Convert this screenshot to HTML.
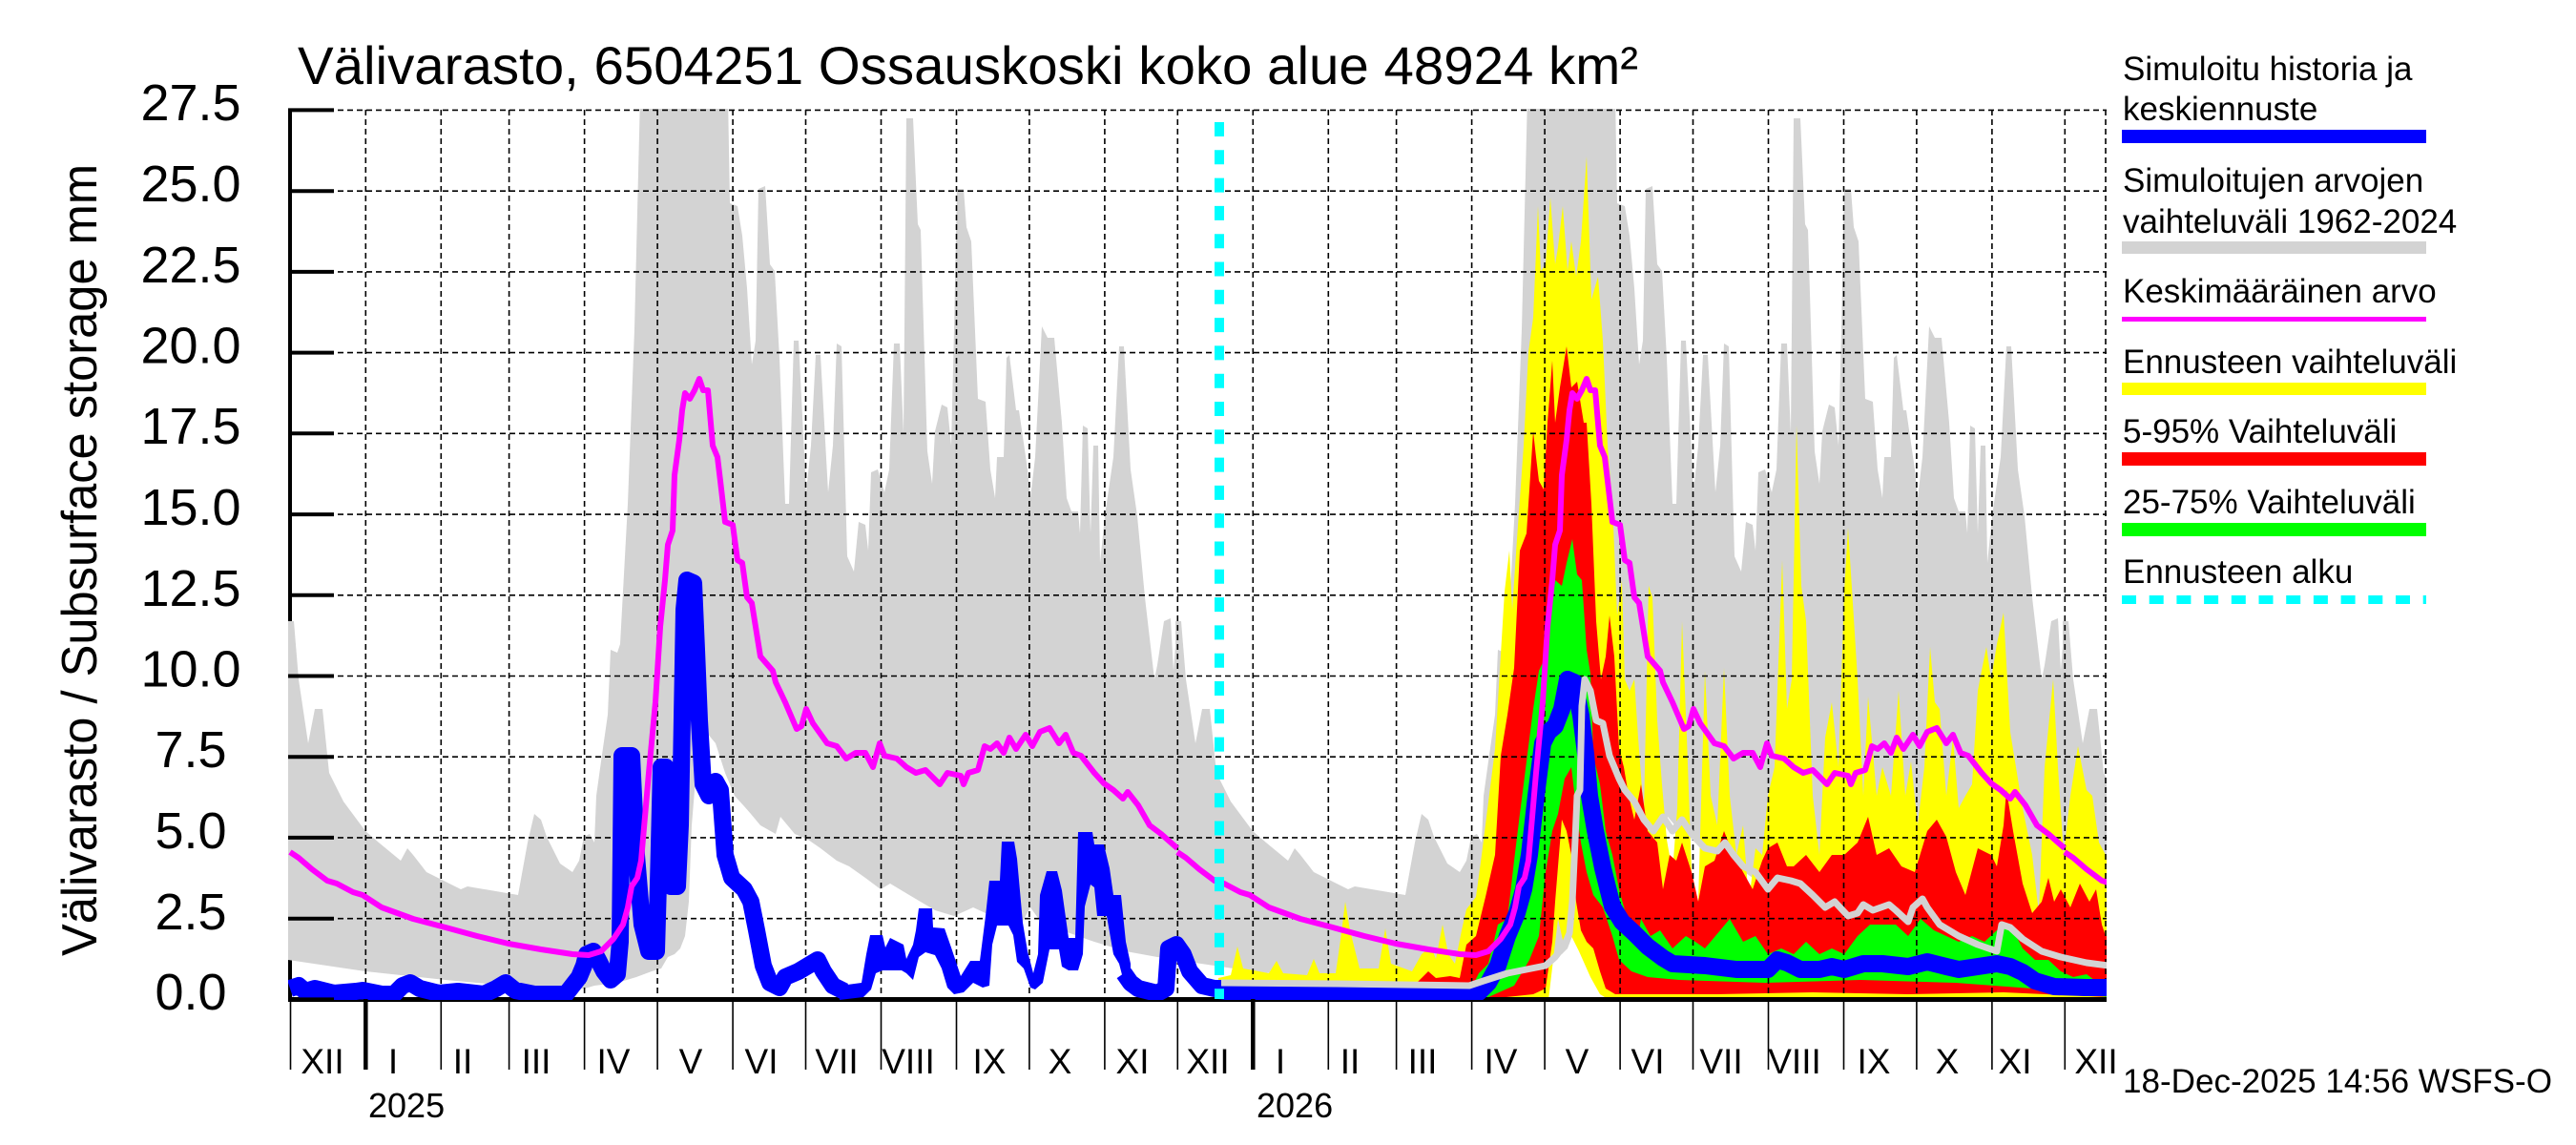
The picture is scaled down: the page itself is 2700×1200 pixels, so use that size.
<!DOCTYPE html>
<html><head><meta charset="utf-8">
<style>
html,body{margin:0;padding:0;background:#fff;}
svg{display:block;}
text{font-family:"Liberation Sans",Arial,Helvetica,sans-serif;fill:#000;}
</style></head>
<body>
<svg xmlns="http://www.w3.org/2000/svg" xmlns:xlink="http://www.w3.org/1999/xlink" width="2700" height="1200" viewBox="0 0 2700 1200">
<rect x="0" y="0" width="2700" height="1200" fill="#fff"/>
<defs>
<clipPath id="pc"><rect x="302" y="114" width="1906" height="934"/></clipPath>
<polygon id="band" fill="#d3d3d3" points="302,651 308,651 313,712 323,779 330,743 338,743 345,810 360,840 383,871 397,883 420,902 427,889 433,896 447,914 483,932 490,929 543,938 553,883 560,853 567,859 573,877 587,905 600,914 607,902 612,877 618,874 623,883 625,834 630,798 637,749 640,681 647,684 650,675 653,620 658,528 665,345 668,222 671,100 763,100 765,213 773,216 778,247 783,302 788,382 792,357 795,198 802,195 807,277 812,284 817,375 823,528 827,528 832,357 837,357 845,516 850,467 855,372 860,372 868,516 873,467 877,360 882,363 888,583 895,599 900,547 907,550 910,577 913,495 920,492 927,516 932,492 937,360 943,360 947,455 950,124 957,124 962,235 965,241 972,473 977,507 980,452 987,424 993,427 997,467 1000,345 1003,198 1010,198 1013,238 1018,253 1025,418 1033,421 1038,492 1043,522 1045,479 1052,479 1055,375 1058,372 1065,430 1068,430 1077,492 1080,522 1085,479 1092,342 1098,354 1105,354 1113,443 1118,522 1123,536 1130,536 1132,559 1135,446 1140,449 1143,559 1146,467 1151,467 1153,590 1158,541 1167,479 1173,363 1178,363 1185,492 1192,541 1200,626 1210,712 1213,697 1220,651 1227,648 1230,703 1234,651 1234,1006 1213,1003 1180,997 1147,987 1113,975 1093,969 1080,951 1070,969 1057,957 1033,957 1020,951 1000,960 980,954 953,938 933,926 923,932 907,920 890,908 877,902 860,889 847,880 833,874 818,856 813,874 797,865 787,853 780,845 770,834 760,810 750,779 740,767 730,804 725,865 722,945 718,981 713,994 707,1000 700,1003 693,1015 683,1018 667,1024 647,1030 623,1033 613,1036 600,1036 533,1033 467,1027 383,1018 302,1006"/>
<polyline id="mean" fill="none" stroke="#ff00ff" stroke-width="6" stroke-linejoin="round" points="304,893 313,899 327,911 343,923 353,926 370,935 380,938 400,951 433,963 467,972 500,981 533,989 567,995 600,1000 617,1001 630,997 643,984 653,969 658,951 662,929 668,920 672,902 680,810 687,736 692,657 697,608 700,571 705,556 707,498 712,461 715,430 718,412 723,418 728,409 733,397 737,409 742,409 747,467 752,479 755,504 760,547 768,550 773,587 778,590 783,626 788,632 797,688 810,703 813,715 823,736 835,764 840,761 845,743 852,758 867,779 877,782 887,795 897,789 907,789 915,804 922,779 927,792 940,795 950,804 960,810 970,807 985,822 993,810 1007,813 1010,822 1015,810 1025,807 1032,782 1038,785 1045,779 1052,789 1058,773 1065,785 1075,770 1082,782 1090,767 1100,763 1110,779 1117,770 1125,789 1133,792 1147,810 1157,821 1167,828 1177,837 1182,830 1193,844 1205,865 1217,874 1234,889"/>
</defs>

<!-- y axis line (under grey band) -->
<line x1="304" y1="114" x2="304" y2="1049" stroke="#000" stroke-width="4"/>

<g clip-path="url(#pc)">
  <use xlink:href="#band"/>
  <use xlink:href="#band" x="930"/>
  <use xlink:href="#band" x="1860"/>

  <!-- forecast: yellow (min-max) -->
  <polygon fill="#ffff00" points="1277,1025 1290,1022 1297,992 1303,1015 1330,1020 1338,1007 1345,1020 1370,1022 1377,1005 1383,1020 1400,1020 1405,985 1410,945 1415,975 1425,1015 1445,1015 1452,973 1458,1010 1480,1018 1490,1000 1500,992 1505,1005 1512,969 1518,1000 1525,1010 1532,975 1537,953 1547,940 1553,896 1567,785 1577,620 1582,577 1585,639 1590,565 1597,467 1602,369 1607,333 1612,216 1615,284 1620,277 1625,207 1630,277 1633,259 1638,216 1643,284 1647,253 1652,290 1657,253 1663,164 1668,314 1675,290 1680,357 1685,467 1690,528 1695,645 1700,608 1703,712 1708,724 1713,712 1717,773 1723,853 1728,614 1732,626 1737,755 1742,822 1747,880 1753,914 1758,847 1763,651 1768,773 1773,914 1780,945 1787,703 1793,834 1800,865 1807,700 1813,834 1820,896 1827,865 1833,945 1840,889 1847,896 1853,834 1860,804 1868,587 1873,743 1878,712 1883,446 1888,614 1893,651 1900,834 1907,896 1913,773 1920,736 1927,804 1933,620 1937,553 1942,632 1947,712 1953,834 1958,730 1967,834 1973,804 1982,834 1990,724 1997,834 2003,798 2010,865 2017,804 2023,678 2028,736 2033,743 2040,834 2047,773 2053,847 2060,834 2067,822 2073,724 2077,703 2082,678 2087,712 2093,675 2100,642 2107,767 2113,804 2120,847 2130,896 2137,957 2143,804 2152,712 2157,804 2163,896 2170,834 2178,782 2187,828 2193,834 2200,883 2207,896 2210,896 2210,1048 1687,1048 1677,1042 1667,1024 1655,997 1647,981 1640,994 1633,963 1623,1048 1277,1048"/>

  <!-- forecast: red (5-95%) -->
  <polygon fill="#ff0000" points="1277,1036 1400,1036 1480,1035 1490,1025 1497,1018 1505,1025 1520,1023 1530,1025 1537,990 1547,981 1557,940 1567,896 1573,792 1580,749 1587,700 1593,577 1600,559 1607,452 1610,479 1613,504 1618,513 1622,443 1627,378 1630,443 1635,406 1642,363 1647,406 1653,400 1660,443 1663,443 1668,528 1673,651 1678,712 1683,688 1687,645 1692,688 1697,785 1702,804 1707,834 1713,859 1720,822 1727,871 1737,883 1743,932 1750,896 1757,902 1763,883 1773,914 1780,945 1787,908 1797,902 1807,871 1817,896 1827,914 1837,932 1847,902 1853,889 1863,883 1873,908 1880,908 1893,896 1907,914 1920,896 1933,896 1947,883 1958,856 1967,896 1980,889 1993,908 2007,914 2020,871 2030,859 2040,877 2050,914 2060,938 2073,889 2087,896 2093,908 2100,865 2103,828 2110,871 2120,926 2130,957 2140,945 2147,920 2153,945 2160,932 2170,951 2180,926 2190,945 2197,932 2203,969 2207,981 2210,981 2210,1045 2100,1040 2000,1042 1900,1040 1800,1042 1760,1042 1693,1042 1683,1036 1677,1018 1670,994 1663,987 1657,975 1652,945 1647,896 1642,871 1637,859 1630,945 1627,987 1620,1036 1607,1042 1560,1047 1277,1047"/>

  <!-- forecast: green (25-75%) -->
  <polygon fill="#00ff00" points="1277,1040 1540,1040 1550,1020 1560,1010 1570,969 1580,963 1587,902 1593,853 1600,798 1607,743 1613,703 1620,688 1627,632 1630,608 1637,614 1642,590 1648,565 1653,602 1658,608 1663,681 1667,706 1670,792 1677,822 1683,871 1690,896 1697,932 1707,969 1717,981 1720,963 1730,981 1740,975 1753,994 1767,981 1777,987 1787,994 1803,975 1813,963 1827,987 1840,981 1853,1000 1867,994 1880,1000 1893,987 1907,1000 1920,994 1933,1000 1947,981 1960,969 1973,969 1987,969 2000,981 2013,963 2027,975 2040,981 2053,987 2067,981 2080,987 2093,975 2107,969 2120,994 2133,1006 2147,1006 2160,1018 2173,1024 2187,1021 2207,1036 2210,1036 2210,1045 2130,1036 2050,1030 1950,1027 1850,1030 1760,1027 1727,1024 1710,1018 1697,1006 1690,981 1680,951 1670,938 1663,914 1657,883 1652,847 1647,804 1640,816 1633,853 1627,871 1620,914 1613,981 1603,1006 1587,1033 1560,1045 1277,1045"/>

  <!-- grid -->
  <path fill="none" stroke="#000" stroke-width="1.6" stroke-dasharray="6,4" d="M304 962.7H2208M304 877.9H2208M304 793.2H2208M304 708.5H2208M304 623.8H2208M304 539.1H2208M304 454.3H2208M304 369.6H2208M304 284.9H2208M304 200.2H2208M304 115.4H2208"/>
  <path fill="none" stroke="#000" stroke-width="1.6" stroke-dasharray="6,4" d="M383.3 115V1047M462.3 115V1047M533.6 115V1047M612.6 115V1047M689.1 115V1047M768.1 115V1047M844.5 115V1047M923.5 115V1047M1002.5 115V1047M1078.9 115V1047M1157.9 115V1047M1234.3 115V1047M1313.3 115V1047M1392.3 115V1047M1463.6 115V1047M1542.6 115V1047M1619.1 115V1047M1698.1 115V1047M1774.5 115V1047M1853.5 115V1047M1932.5 115V1047M2008.9 115V1047M2087.9 115V1047M2164.3 115V1047M2207 115V1047"/>
</g>

<!-- bottom axis -->
<line x1="302" y1="1047.5" x2="2208" y2="1047.5" stroke="#000" stroke-width="5"/>

<g clip-path="url(#pc)">
  <!-- blue history -->
  <polyline fill="none" stroke="#0000ff" stroke-width="18" stroke-linejoin="round" points="304,1036 313,1033 320,1039 330,1036 350,1041 373,1039 380,1038 400,1042 413,1042 422,1033 430,1030 440,1036 460,1041 480,1039 507,1042 520,1036 530,1030 540,1038 560,1042 593,1042 600,1033 607,1024 612,1012 615,1000 622,997 627,1006 633,1018 640,1027 647,1021 650,987 652,792 662,792 667,896 673,969 680,997 688,997 690,926 693,804 698,804 700,896 703,929 710,929 713,865 717,639 720,608 727,611 730,681 733,755 737,822 743,834 750,819 755,828 760,896 767,920 780,932 787,945 793,975 800,1012 807,1030 817,1035 823,1024 837,1018 847,1012 857,1006 863,1018 873,1033 885,1039"/>
  <polygon fill="#0000ff" points="880,1033 903,1030 908,1000 912,980 925,980 928,993 933,983 947,990 950,1005 957,990 960,975 963,952 977,952 978,972 990,973 997,993 1007,1023 1017,1007 1027,1007 1033,960 1037,923 1048,923 1050,882 1063,882 1066,900 1072,967 1077,997 1083,1020 1088,1000 1090,938 1097,913 1108,913 1113,933 1120,983 1127,983 1130,872 1145,872 1147,885 1157,885 1163,910 1167,938 1175,938 1180,987 1185,1010 1185,1040 1180,1037 1173,1010 1167,1000 1160,960 1150,960 1147,930 1143,927 1137,950 1135,1000 1130,1017 1120,1017 1113,1013 1110,995 1100,995 1097,1010 1093,1030 1085,1037 1080,1035 1073,1015 1066,1008 1062,980 1057,970 1045,970 1040,990 1037,1033 1030,1035 1020,1030 1010,1040 1000,1042 993,1035 987,1015 980,1001 970,998 963,1003 957,1027 950,1020 945,1017 925,1017 918,1020 913,1037 905,1045 880,1048"/>
  <polyline fill="none" stroke="#0000ff" stroke-width="18" stroke-linejoin="round" points="1178,1020 1185,1030 1193,1036 1213,1041 1222,1036 1225,994 1233,990 1240,1000 1247,1018 1260,1033 1273,1036 1280,1036"/>
  <!-- blue forecast median -->
  <polyline fill="none" stroke="#0000ff" stroke-width="18" stroke-linejoin="round" points="1277,1038 1300,1041 1400,1042 1537,1042 1550,1040 1560,1030 1570,1012 1580,981 1590,957 1597,932 1603,896 1610,834 1617,779 1623,767 1630,761 1637,743 1643,712 1650,715 1657,750 1662,790 1666,834 1672,870 1680,910 1690,950 1700,966 1713,978 1727,992 1743,1004 1753,1010 1787,1012 1820,1016 1853,1016 1863,1006 1873,1009 1887,1016 1907,1016 1920,1013 1933,1016 1953,1010 1973,1010 2000,1013 2020,1008 2040,1013 2053,1016 2073,1013 2093,1010 2107,1013 2120,1019 2133,1028 2153,1034 2187,1035 2210,1035"/>
  <!-- light grey line -->
  <polyline fill="none" stroke="#d3d3d3" stroke-width="7" stroke-linejoin="round" points="1280,1030 1400,1031 1540,1033 1555,1028 1580,1020 1600,1016 1620,1012 1630,1003 1640,990 1645,978 1648,945 1651,880 1653,834 1656,828 1658,740 1661,712 1667,724 1673,755 1680,758 1687,792 1697,816 1703,828 1713,840 1723,859 1733,871 1743,856 1753,871 1763,859 1773,874 1787,889 1800,892 1808,883 1817,896 1827,908 1840,914 1853,932 1863,920 1877,923 1887,926 1900,938 1913,951 1923,945 1937,960 1947,957 1953,948 1963,954 1980,948 1987,954 2000,966 2005,951 2015,942 2020,951 2033,969 2053,981 2073,990 2093,997 2098,969 2107,972 2120,984 2140,997 2160,1003 2187,1009 2210,1012"/>
  <!-- mean line -->
  <use xlink:href="#mean"/>
  <use xlink:href="#mean" x="930"/>
  <use xlink:href="#mean" x="1860"/>
  <!-- forecast start -->
  <line x1="1278" y1="128" x2="1278" y2="1047" stroke="#00ffff" stroke-width="10" stroke-dasharray="15,14.3"/>
</g>

<!-- y ticks -->
<path fill="none" stroke="#000" stroke-width="4" d="M302 1047.4H350M302 962.7H350M302 877.9H350M302 793.2H350M302 708.5H350M302 623.8H350M302 539.1H350M302 454.3H350M302 369.6H350M302 284.9H350M302 200.2H350M302 115.4H350"/>

<!-- y tick labels -->
<g font-size="54" text-anchor="middle">
<text x="200" y="1058">0.0</text>
<text x="200" y="974">2.5</text>
<text x="200" y="889">5.0</text>
<text x="200" y="804">7.5</text>
<text x="200" y="719.5">10.0</text>
<text x="200" y="635">12.5</text>
<text x="200" y="550">15.0</text>
<text x="200" y="465">17.5</text>
<text x="200" y="380.5">20.0</text>
<text x="200" y="296">22.5</text>
<text x="200" y="211">25.0</text>
<text x="200" y="126">27.5</text>
</g>

<!-- y axis title -->
<text transform="translate(101,587) rotate(-90)" x="0" y="0" font-size="52" text-anchor="middle" textLength="830" lengthAdjust="spacingAndGlyphs">Välivarasto / Subsurface storage  mm</text>

<!-- title -->
<text x="312" y="88" font-size="56" textLength="1405" lengthAdjust="spacingAndGlyphs">Välivarasto, 6504251 Ossauskoski koko alue 48924 km²</text>

<!-- month separators -->
<path fill="none" stroke="#000" stroke-width="1.6" d="M304.5 1049V1121M462.3 1049V1121M533.6 1049V1121M612.6 1049V1121M689.1 1049V1121M768.1 1049V1121M844.5 1049V1121M923.5 1049V1121M1002.5 1049V1121M1078.9 1049V1121M1157.9 1049V1121M1234.3 1049V1121M1392.3 1049V1121M1463.6 1049V1121M1542.6 1049V1121M1619.1 1049V1121M1698.1 1049V1121M1774.5 1049V1121M1853.5 1049V1121M1932.5 1049V1121M2008.9 1049V1121M2087.9 1049V1121M2164.3 1049V1121"/>
<path fill="none" stroke="#000" stroke-width="4.5" d="M383.3 1047V1121M1313.3 1047V1121"/>

<!-- month labels -->
<g font-size="37" text-anchor="middle">
<text x="338" y="1125">XII</text>
<text x="412" y="1125">I</text>
<text x="485" y="1125">II</text>
<text x="562" y="1125">III</text>
<text x="643" y="1125">IV</text>
<text x="724" y="1125">V</text>
<text x="798" y="1125">VI</text>
<text x="877" y="1125">VII</text>
<text x="952" y="1125">VIII</text>
<text x="1037" y="1125">IX</text>
<text x="1111" y="1125">X</text>
<text x="1187" y="1125">XI</text>
<text x="1266" y="1125">XII</text>
<text x="1342" y="1125">I</text>
<text x="1415" y="1125">II</text>
<text x="1491" y="1125">III</text>
<text x="1573" y="1125">IV</text>
<text x="1653" y="1125">V</text>
<text x="1727" y="1125">VI</text>
<text x="1804" y="1125">VII</text>
<text x="1881" y="1125">VIII</text>
<text x="1964" y="1125">IX</text>
<text x="2041" y="1125">X</text>
<text x="2112" y="1125">XI</text>
<text x="2197" y="1125">XII</text>
</g>
<g font-size="36">
<text x="386" y="1171">2025</text>
<text x="1317" y="1171">2026</text>
</g>

<!-- timestamp -->
<text x="2225" y="1145" font-size="35" textLength="450" lengthAdjust="spacingAndGlyphs">18-Dec-2025 14:56 WSFS-O</text>

<!-- legend -->
<g font-size="35">
<text x="2225" y="84">Simuloitu historia ja</text>
<text x="2225" y="126">keskiennuste</text>
<text x="2225" y="201">Simuloitujen arvojen</text>
<text x="2225" y="244">vaihteluväli 1962-2024</text>
<text x="2225" y="317">Keskimääräinen arvo</text>
<text x="2225" y="391">Ennusteen vaihteluväli</text>
<text x="2225" y="464">5-95% Vaihteluväli</text>
<text x="2225" y="538">25-75% Vaihteluväli</text>
<text x="2225" y="611">Ennusteen alku</text>
</g>
<rect x="2224" y="136" width="319" height="14" fill="#0000ff"/>
<rect x="2224" y="253" width="319" height="13" fill="#d3d3d3"/>
<rect x="2224" y="332" width="319" height="5" fill="#ff00ff"/>
<rect x="2224" y="401" width="319" height="13" fill="#ffff00"/>
<rect x="2224" y="474" width="319" height="14" fill="#ff0000"/>
<rect x="2224" y="548" width="319" height="14" fill="#00ff00"/>
<line x1="2224" y1="628.5" x2="2543" y2="628.5" stroke="#00ffff" stroke-width="9" stroke-dasharray="15,13.7"/>
</svg>
</body></html>
